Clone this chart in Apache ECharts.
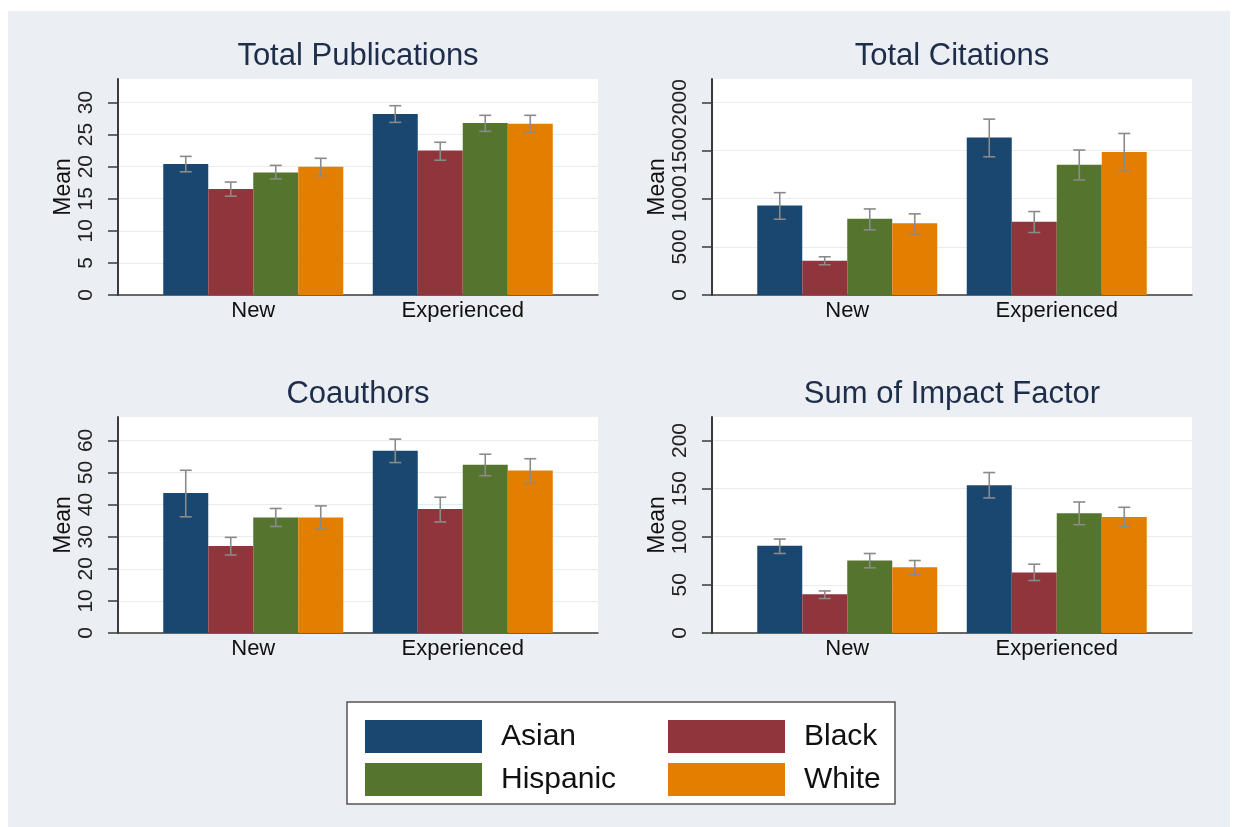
<!DOCTYPE html>
<html><head><meta charset="utf-8">
<script src="https://cdn.jsdelivr.net/npm/echarts@6/dist/echarts.min.js"></script>
<style>
html,body{margin:0;padding:0;background:#fff;width:1236px;height:827px;overflow:hidden}
#bg{position:absolute;left:8px;top:11px;width:1222px;height:816px;background:#ebeef2}
#chart{position:absolute;left:0;top:0;width:1236px;height:827px}
</style>
</head><body><div id="bg"></div><div id="chart"></div>
<script>
// ---------------- data ----------------
const categories = ['New', 'Experienced'];
const races = ['Asian', 'Black', 'Hispanic', 'White'];

// Total Publications (rows: Asian, Black, Hispanic, White; cols: New, Experienced)
const pubMean = [[20.4, 28.2], [16.5, 22.5], [19.1, 26.8], [20.0, 26.7]];
const pubLow  = [[19.2, 26.9], [15.4, 21.0], [18.1, 25.5], [18.6, 25.4]];
const pubHigh = [[21.6, 29.5], [17.6, 23.8], [20.2, 28.0], [21.3, 28.0]];
const pubTicks = [0, 5, 10, 15, 20, 25, 30];
const pubMax = 33.66;

// Total Citations
const citeMean = [[929, 1637], [356, 760], [791, 1354], [746, 1485]];
const citeLow  = [[787, 1436], [314, 649], [677, 1195], [635, 1285]];
const citeHigh = [[1063, 1827], [397, 867], [894, 1506], [843, 1678]];
const citeTicks = [0, 500, 1000, 1500, 2000];
const citeMax = 2244;

// Coauthors
const coMean = [[43.6, 56.8], [27.1, 38.6], [36.0, 52.4], [36.0, 50.6]];
const coLow  = [[36.2, 53.1], [24.3, 34.6], [33.2, 49.0], [32.4, 46.6]];
const coHigh = [[50.7, 60.4], [29.8, 42.3], [38.8, 55.7], [39.6, 54.3]];
const coTicks = [0, 10, 20, 30, 40, 50, 60];
const coMax = 67.3;

// Sum of Impact Factor
const ifMean = [[90.6, 153.5], [40.3, 62.8], [75.3, 124.3], [68.4, 120.5]];
const ifLow  = [[82.6, 140.3], [35.8, 54.5], [67.7, 112.5], [60.8, 110.4]];
const ifHigh = [[97.6, 166.7], [43.7, 71.5], [82.6, 136.1], [75.3, 130.6]];
const ifTicks = [0, 50, 100, 150, 200];
const ifMax = 224.4;

const panelTitles = ['Total Publications', 'Total Citations', 'Coauthors', 'Sum of Impact Factor'];

// ---------------- style / layout ----------------
const FONT = 'Liberation Sans, Arial, Helvetica, sans-serif';
const COLORS = ['#1a476f', '#90353b', '#55752f', '#e37e00'];
const ERR_COLOR = '#8a8a8a';
const AXIS_COLOR = '#3a3a3a';
const GRID_COLOR = '#e6ecef';
const BAR_W = 45;
const CAP_W = 12;
const PLOT_W = 480, PLOT_H = 216, BAR_INSET = 30.5;
const panelPos = [[118, 79], [712, 79], [118, 417], [712, 417]];

const panels = [
  {mean: pubMean, low: pubLow, high: pubHigh, ticks: pubTicks, max: pubMax},
  {mean: citeMean, low: citeLow, high: citeHigh, ticks: citeTicks, max: citeMax},
  {mean: coMean, low: coLow, high: coHigh, ticks: coTicks, max: coMax},
  {mean: ifMean, low: ifLow, high: ifHigh, ticks: ifTicks, max: ifMax}
];

function renderErr(params, api) {
  const c = api.value(0), lo = api.value(1), hi = api.value(2), r = api.value(3);
  const pLo = api.coord([c, lo]);
  const pHi = api.coord([c, hi]);
  const x = pLo[0] + (r - 1.5) * BAR_W;
  const h = CAP_W / 2;
  const st = {stroke: ERR_COLOR, lineWidth: 1.6};
  return {type: 'group', children: [
    {type: 'line', shape: {x1: x, y1: pLo[1], x2: x, y2: pHi[1]}, style: st},
    {type: 'line', shape: {x1: x - h, y1: pHi[1], x2: x + h, y2: pHi[1]}, style: st},
    {type: 'line', shape: {x1: x - h, y1: pLo[1], x2: x + h, y2: pLo[1]}, style: st}
  ]};
}

const grid = [], xAxis = [], yAxis = [], series = [], graphic = [];

panels.forEach((p, i) => {
  const [gx, gy] = panelPos[i];
  const bgIdx = 2 * i, barIdx = 2 * i + 1;
  grid.push({left: gx, top: gy, width: PLOT_W, height: PLOT_H, show: true, backgroundColor: '#ffffff', borderWidth: 0});
  grid.push({left: gx + BAR_INSET, top: gy, width: PLOT_W - 2 * BAR_INSET, height: PLOT_H});
  xAxis.push({type: 'category', gridIndex: bgIdx, data: categories,
    axisLine: {show: true, onZero: false, lineStyle: {color: AXIS_COLOR, width: 1.5}},
    axisTick: {show: false}, axisLabel: {show: false}, splitLine: {show: false}});
  xAxis.push({type: 'category', gridIndex: barIdx, data: categories,
    axisLine: {show: false}, axisTick: {show: false},
    axisLabel: {fontSize: 22, color: '#111', margin: 5, fontFamily: FONT}});
  yAxis.push({type: 'value', gridIndex: bgIdx, min: 0, max: p.max,
    name: 'Mean', nameLocation: 'middle', nameRotate: 90, nameGap: 37,
    nameTextStyle: {fontSize: 23, color: '#111', fontFamily: FONT},
    axisLine: {show: true, lineStyle: {color: AXIS_COLOR, width: 2}},
    axisTick: {show: true, length: 10, lineStyle: {color: AXIS_COLOR, width: 1.5}, customValues: p.ticks},
    axisLabel: {rotate: 90, fontSize: 21, color: '#222', margin: 21, fontFamily: FONT,
      customValues: p.ticks, formatter: v => String(v)},
    splitLine: {show: true, lineStyle: {color: GRID_COLOR, width: 1.2}}});
  yAxis.push({type: 'value', gridIndex: barIdx, min: 0, max: p.max, show: false});

  races.forEach((race, r) => {
    series.push({type: 'bar', name: race, xAxisIndex: barIdx, yAxisIndex: barIdx,
      data: p.mean[r], barWidth: BAR_W, barGap: '0%',
      itemStyle: {color: COLORS[r]}, emphasis: {disabled: true}, z: 2});
  });
  const errData = [];
  races.forEach((race, r) => {
    categories.forEach((c, ci) => errData.push([ci, p.low[r][ci], p.high[r][ci], r]));
  });
  series.push({type: 'custom', xAxisIndex: barIdx, yAxisIndex: barIdx, data: errData,
    encode: {x: 0, y: [1, 2]}, renderItem: renderErr, z: 4, silent: true});

  graphic.push({type: 'text', x: gx + PLOT_W / 2, y: gy - 22.5,
    style: {text: panelTitles[i], fontSize: 31, fontFamily: FONT, fill: '#1e2d4a',
      textAlign: 'center', textVerticalAlign: 'middle'}});
});

graphic.push({type: 'rect', shape: {x: 347, y: 702, width: 548, height: 102},
  style: {fill: '#ffffff', stroke: '#555', lineWidth: 1.5}, z: -1});

const legendCommon = {orient: 'vertical', top: 715, itemWidth: 117, itemHeight: 33, itemGap: 10,
  icon: 'rect', selectedMode: false,
  textStyle: {fontSize: 30, color: '#111', fontFamily: FONT, lineHeight: 33, padding: [0, 0, 0, 14]}};

const option = {
  animation: false,
  textStyle: {fontFamily: FONT},
  grid, xAxis, yAxis, series, graphic,
  legend: [
    Object.assign({}, legendCommon, {left: 360, data: ['Asian', 'Hispanic']}),
    Object.assign({}, legendCommon, {left: 663, data: ['Black', 'White']})
  ]
};

const chart = echarts.init(document.getElementById('chart'), null, {renderer: 'canvas'});
chart.setOption(option);
</script></body></html>
